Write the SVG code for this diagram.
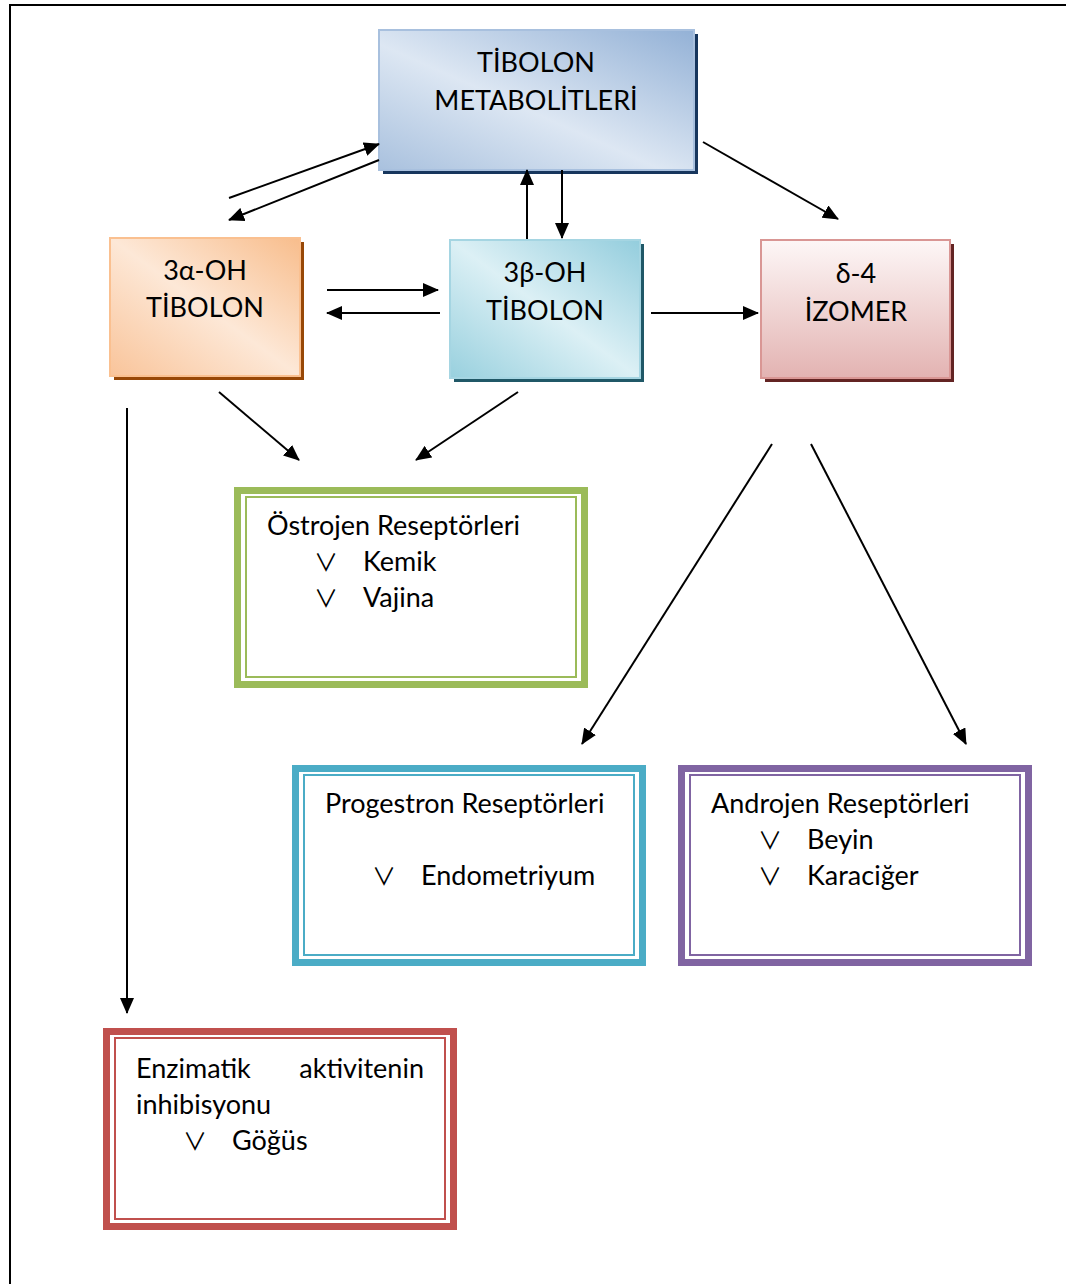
<svg xmlns="http://www.w3.org/2000/svg" width="1066" height="1284" viewBox="0 0 1066 1284">
<defs>
<linearGradient id="gBlue" x1="0" y1="1" x2="1" y2="0">
<stop offset="0" stop-color="#a9c1de"/><stop offset="0.45" stop-color="#dde7f3"/><stop offset="1" stop-color="#93b1d6"/>
</linearGradient>
<linearGradient id="gOrange" x1="0" y1="1" x2="1" y2="0">
<stop offset="0" stop-color="#f9c49a"/><stop offset="0.5" stop-color="#fde8d7"/><stop offset="1" stop-color="#f8bd8c"/>
</linearGradient>
<linearGradient id="gTeal" x1="0" y1="1" x2="1" y2="0">
<stop offset="0" stop-color="#98d0de"/><stop offset="0.5" stop-color="#dcf0f5"/><stop offset="1" stop-color="#93cddd"/>
</linearGradient>
<linearGradient id="gPink" x1="0" y1="0" x2="0" y2="1">
<stop offset="0" stop-color="#fdf7f7"/><stop offset="1" stop-color="#e3b3b2"/>
</linearGradient>
<marker id="ah" viewBox="0 0 16 14" refX="15" refY="7" markerWidth="16" markerHeight="14" markerUnits="userSpaceOnUse" orient="auto">
<path d="M0,0 L16,7 L0,14 Z" fill="#000"/>
</marker>
<style>
text{font-family:Lato,"Liberation Sans",sans-serif;font-size:27px;fill:#000}
.c{text-anchor:middle;font-size:27px}
.v{font-family:"Noto Sans CJK JP","Noto Sans CJK SC",sans-serif;font-size:24px;font-weight:400}
.conn line{stroke:#000;stroke-width:2;marker-end:url(#ah)}
.outer{fill:#fff;stroke-width:7}
.inner{fill:none;stroke-width:2}
</style>
</defs>
<rect width="1066" height="1284" fill="#fff"/>
<path d="M10,1284 L10,5 L1066,5" fill="none" stroke="#000" stroke-width="2"/>

<g id="metabolitler">
<rect x="383" y="34" width="315" height="140" fill="#17365d"/>
<rect x="379" y="30" width="315" height="140" fill="url(#gBlue)" stroke="#a8c0de" stroke-width="2"/>
<text class="c" x="536" y="72">TİBOLON</text>
<text class="c" x="536" y="110">METABOLİTLERİ</text>
</g>

<g id="alfa">
<rect x="114" y="242" width="190" height="138" fill="#984807"/>
<rect x="110" y="238" width="190" height="138" fill="url(#gOrange)" stroke="#fac090" stroke-width="2"/>
<text class="c" x="205" y="280">3α-OH</text>
<text class="c" x="205" y="317">TİBOLON</text>
</g>

<g id="beta">
<rect x="454" y="244" width="190" height="138" fill="#205867"/>
<rect x="450" y="240" width="190" height="138" fill="url(#gTeal)" stroke="#a5d5e2" stroke-width="2"/>
<text class="c" x="545" y="282">3β-OH</text>
<text class="c" x="545" y="320">TİBOLON</text>
</g>

<g id="izomer">
<rect x="765" y="244" width="189" height="138" fill="#632423"/>
<rect x="761" y="240" width="189" height="138" fill="url(#gPink)" stroke="#d99694" stroke-width="2"/>
<text class="c" x="856" y="283">δ-4</text>
<text class="c" x="856" y="321">İZOMER</text>
</g>

<g id="ostrojen">
<rect class="outer" x="237.5" y="490.5" width="347" height="194" stroke="#9bbb59"/>
<rect class="inner" x="246" y="497" width="330" height="180" stroke="#9bbb59"/>
<text x="267" y="535">Östrojen Reseptörleri</text>
<text class="v" x="314" y="571">∨</text><text x="363" y="571">Kemik</text>
<text class="v" x="314" y="607">∨</text><text x="363" y="607">Vajina</text>
</g>

<g id="progestron">
<rect class="outer" x="295.5" y="768.5" width="347" height="194" stroke="#4bacc6"/>
<rect class="inner" x="304" y="775" width="330" height="180" stroke="#4bacc6"/>
<text x="325" y="813">Progestron Reseptörleri</text>
<text class="v" x="372" y="885">∨</text><text x="421" y="885">Endometriyum</text>
</g>

<g id="androjen">
<rect class="outer" x="681.5" y="768.5" width="347" height="194" stroke="#8064a2"/>
<rect class="inner" x="690" y="775" width="330" height="180" stroke="#8064a2"/>
<text x="711" y="813">Androjen Reseptörleri</text>
<text class="v" x="758" y="849">∨</text><text x="807" y="849">Beyin</text>
<text class="v" x="758" y="885">∨</text><text x="807" y="885">Karaciğer</text>
</g>

<g id="enzimatik">
<rect class="outer" x="106.5" y="1031.5" width="347" height="195" stroke="#c0504d"/>
<rect class="inner" x="115" y="1038" width="330" height="181" stroke="#c0504d"/>
<text x="136" y="1078">Enzimatik</text>
<text x="424" y="1078" text-anchor="end">aktivitenin</text>
<text x="136" y="1114">inhibisyonu</text>
<text class="v" x="183" y="1150">∨</text><text x="232" y="1150">Göğüs</text>
</g>

<g id="connectors" class="conn">
<line x1="229" y1="198" x2="379" y2="144"/>
<line x1="379" y1="160" x2="229" y2="220"/>
<line x1="327" y1="290" x2="438" y2="290"/>
<line x1="440" y1="313" x2="327" y2="313"/>
<line x1="527" y1="239" x2="527" y2="170"/>
<line x1="562" y1="170" x2="562" y2="238"/>
<line x1="703" y1="142" x2="838" y2="219"/>
<line x1="651" y1="313" x2="758" y2="313"/>
<line x1="219" y1="392" x2="299" y2="460"/>
<line x1="518" y1="392" x2="416" y2="460"/>
<line x1="772" y1="444" x2="582" y2="744"/>
<line x1="811" y1="444" x2="966" y2="744"/>
<line x1="127" y1="408" x2="127" y2="1013"/>
</g>
</svg>
